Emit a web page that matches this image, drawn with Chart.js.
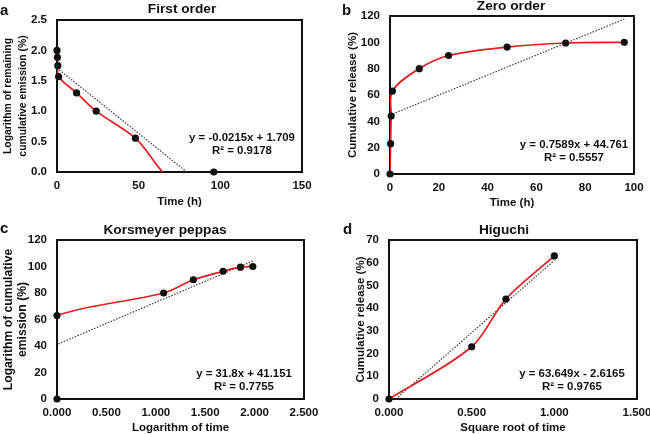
<!DOCTYPE html>
<html>
<head>
<meta charset="utf-8">
<script src="https://cdn.jsdelivr.net/npm/chart.js@4.4.1/dist/chart.umd.min.js"></script>
<style>
  html, body { margin: 0; padding: 0; background: #fff; }
  #page { position: relative; width: 650px; height: 434px; overflow: hidden; }
  canvas { position: absolute; }
</style>
</head>
<body>
<div id="page">
  <canvas id="chart-a" width="325" height="217" style="left:0;top:0"></canvas>
  <canvas id="chart-b" width="325" height="217" style="left:325px;top:0"></canvas>
  <canvas id="chart-c" width="325" height="217" style="left:0;top:217px"></canvas>
  <canvas id="chart-d" width="325" height="217" style="left:325px;top:217px"></canvas>
</div>
<script>
// ---------- data ----------
const hours = [0, 0.25, 0.5, 1, 12, 24, 48, 72, 96];
const firstOrderLog = [2.0, 1.886, 1.748, 1.568, 1.301, 1.0, 0.556, -0.15, 0];
const zeroOrderRelease = [0, 23, 44, 63, 80, 90, 96.4, 99.5, 100];
const peppasLogTime = [0, -0.602, -0.301, 0, 1.079, 1.38, 1.681, 1.857, 1.982];
const peppasRelease = [0, 23, 44, 63, 80, 90, 96.4, 99.5, 100];
const higuchiRootTime = [0, 0.5, 0.707, 1.0];
const higuchiRelease = [0, 23, 44, 63];

// trend lines: [slope, intercept]
const firstOrderFit = [-0.0215, 1.709];
const zeroOrderFit = [0.7589, 44.761];
const peppasFit = [31.8, 41.151];
const higuchiFit = [63.649, -2.6165];

const firstOrderEq = ["y = -0.0215x + 1.709", "R² = 0.9178"];
const zeroOrderEq = ["y = 0.7589x + 44.761", "R² = 0.5557"];
const peppasEq = ["y = 31.8x + 41.151", "R² = 0.7755"];
const higuchiEq = ["y = 63.649x - 2.6165", "R² = 0.9765"];

// ticks
const ticksAx = [0, 50, 100, 150];
const ticksAy = [0, 0.5, 1.0, 1.5, 2.0, 2.5];
const ticksBx = [0, 20, 40, 60, 80, 100];
const ticksBy = [0, 20, 40, 60, 80, 100, 120];
const ticksCx = [0, 0.5, 1.0, 1.5, 2.0, 2.5];
const ticksCy = [0, 20, 40, 60, 80, 100, 120];
const ticksDx = [0, 0.5, 1.0, 1.5];
const ticksDy = [0, 10, 20, 30, 40, 50, 60, 70];

// ---------- look ----------
const $ = (id) => document.getElementById(id);
const FONT = "'Liberation Sans', Arial, sans-serif";
const INK = "#111";
const RED = "#e31e1e";
const W = 325, H = 217;

const pts = (xs, ys) => xs.map((x, i) => ({ x, y: ys[i] }));
function trend(xs, fit) {
  const lo = Math.min(...xs), hi = Math.max(...xs);
  return [lo, hi].map((x) => ({ x, y: fit[0] * x + fit[1] }));
}

const panelText = {
  id: "panelText",
  beforeDatasetsDraw(chart) {
    const { ctx, chartArea: a } = chart;
    ctx.save();
    ctx.strokeStyle = INK;
    ctx.lineWidth = 2;
    ctx.strokeRect(a.left, a.top, a.right - a.left, a.bottom - a.top);
    ctx.restore();
  },
  afterDraw(chart, args, o) {
    const { ctx, chartArea: a } = chart;
    const midX = (a.left + a.right) / 2, midY = (a.top + a.bottom) / 2;
    ctx.save();
    ctx.fillStyle = INK;
    ctx.textBaseline = "alphabetic";
    ctx.textAlign = "left";
    ctx.font = `bold 15px ${FONT}`;
    ctx.fillText(o.letter, o.letterAt[0], o.letterAt[1]);
    ctx.textAlign = "center";
    ctx.font = `bold 13.7px ${FONT}`;
    ctx.fillText(o.title, o.titleAt[0], o.titleAt[1]);

    ctx.textBaseline = "middle";
    ctx.font = `bold 11.5px ${FONT}`;
    ctx.fillText(o.xTitle, midX, o.xTitleY);
    ctx.font = `bold ${o.yTitleSize}px ${FONT}`;
    o.yTitle.forEach((line, i) => {
      ctx.save();
      ctx.translate(o.yTitleX[i], midY);
      ctx.rotate(-Math.PI / 2);
      ctx.fillText(line, 0, 0);
      ctx.restore();
    });

    ctx.font = `bold 11.4px ${FONT}`;
    o.eq.forEach((line, i) => ctx.fillText(line, o.eqAt[0], o.eqAt[1] + i * 12.5));
    ctx.restore();
  },
};

function axis(ticks, dec, fitFn) {
  return {
    type: "linear",
    min: ticks[0],
    max: ticks[ticks.length - 1],
    afterBuildTicks: (s) => { s.ticks = ticks.map((v) => ({ value: v })); },
    afterFit: fitFn,
    grid: { display: false, drawTicks: false },
    border: { display: false },
    ticks: {
      color: INK,
      font: { family: FONT, size: 11.5, weight: "bold" },
      maxRotation: 0,
      autoSkip: false,
      callback: (v) => Number(v).toFixed(dec),
    },
  };
}

function panel(id, p) {
  const [L, T, R, B] = p.area;
  const x = axis(p.xTicks, p.xDec, (s) => { s.height = H - B; s.paddingLeft = 0; s.paddingRight = 0; });
  x.ticks.padding = 7;
  const y = axis(p.yTicks, p.yDec, (s) => { s.width = L; s.paddingTop = 0; s.paddingBottom = 0; });
  y.ticks.padding = 10;
  return new Chart($(id), {
    type: "scatter",
    data: {
      datasets: [
        { data: pts(p.xs, p.ys), showLine: false, pointRadius: 3.6, pointHoverRadius: 3.6,
          pointBackgroundColor: INK, pointBorderWidth: 0, clip: 6 },
        { data: pts(p.xs, p.ys), showLine: true, pointRadius: 0, borderColor: RED,
          borderWidth: 1.7, tension: 0.33, clip: 0 },
        { data: trend(p.xs, p.fit), showLine: true, pointRadius: 0, borderColor: "#3a3a3a",
          borderWidth: 1.2, borderDash: [1.5, 1.5], clip: 0 },
      ],
    },
    options: {
      responsive: false,
      animation: false,
      events: [],
      layout: { padding: { left: 0, top: T, right: W - R, bottom: 0 } },
      elements: { line: { capBezierPoints: false } },
      scales: { x, y },
      plugins: {
        legend: { display: false },
        tooltip: { enabled: false },
        panelText: p.text,
      },
    },
    plugins: [panelText],
  });
}

panel("chart-a", {
  area: [57, 20, 302, 172],
  xs: hours, ys: firstOrderLog, fit: firstOrderFit,
  xTicks: ticksAx, xDec: 0, yTicks: ticksAy, yDec: 1,
  text: {
    letter: "a", letterAt: [0, 15], title: "First order", titleAt: [182, 12.7],
    xTitle: "Time (h)", xTitleY: 201.5,
    yTitle: ["Logarithm of remaining", "cumulative emission (%)"], yTitleX: [8.5, 23], yTitleSize: 10.4,
    eq: firstOrderEq, eqAt: [242, 138],
  },
});

panel("chart-b", {
  area: [65, 16, 309, 174],
  xs: hours, ys: zeroOrderRelease, fit: zeroOrderFit,
  xTicks: ticksBx, xDec: 0, yTicks: ticksBy, yDec: 0,
  text: {
    letter: "b", letterAt: [17, 15], title: "Zero order", titleAt: [186, 9.5],
    xTitle: "Time (h)", xTitleY: 203,
    yTitle: ["Cumulative release (%)"], yTitleX: [28], yTitleSize: 11.5,
    eq: zeroOrderEq, eqAt: [249, 145],
  },
});

panel("chart-c", {
  area: [57, 23, 304, 182],
  xs: peppasLogTime, ys: peppasRelease, fit: peppasFit,
  xTicks: ticksCx, xDec: 3, yTicks: ticksCy, yDec: 0,
  text: {
    letter: "c", letterAt: [0, 16], title: "Korsmeyer peppas", titleAt: [165, 17.3],
    xTitle: "Logarithm of time", xTitleY: 210.5,
    yTitle: ["Logarithm of cumulative", "emission (%)"], yTitleX: [8.5, 23], yTitleSize: 12.2,
    eq: peppasEq, eqAt: [244, 157],
  },
});

panel("chart-d", {
  area: [64, 23, 312, 182],
  xs: higuchiRootTime, ys: higuchiRelease, fit: higuchiFit,
  xTicks: ticksDx, xDec: 3, yTicks: ticksDy, yDec: 0,
  text: {
    letter: "d", letterAt: [18, 17], title: "Higuchi", titleAt: [179, 17.3],
    xTitle: "Square root of time", xTitleY: 210.5,
    yTitle: ["Cumulative release (%)"], yTitleX: [36], yTitleSize: 11.5,
    eq: higuchiEq, eqAt: [247, 157],
  },
});
</script>
</body>
</html>
